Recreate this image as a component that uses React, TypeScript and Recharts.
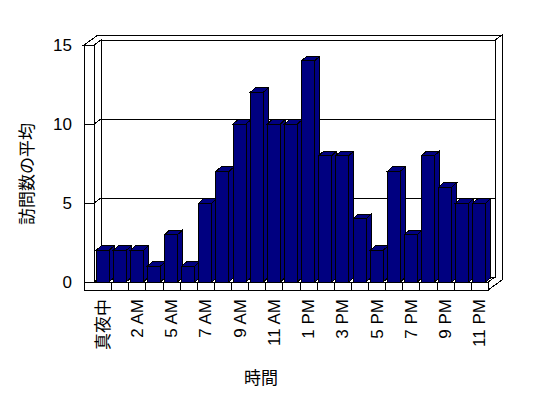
import React from 'react';
import { BarChart, Bar, XAxis, YAxis, CartesianGrid } from 'recharts';

// ---- data ----
const hourLabels = ['真夜中', '1 AM', '2 AM', '3 AM', '5 AM', '6 AM', '7 AM', '8 AM', '9 AM', '10 AM', '11 AM', '12 PM', '1 PM', '2 PM', '3 PM', '4 PM', '5 PM', '6 PM', '7 PM', '8 PM', '9 PM', '10 PM', '11 PM'];
const avgVisits = [2, 2, 2, 1, 3, 1, 5, 7, 10, 12, 10, 10, 14, 8, 8, 4, 2, 7, 3, 8, 6, 5, 5];
const yTicks = [0, 5, 10, 15];
const yTitle = '訪問数の平均';
const xTitle = '時間';

const data = hourLabels.map((label, i) => ({ label, value: avgVisits[i] }));

// ---- layout ----
const W = 548;
const H = 398;
const Y_AXIS_W = 60;
const PLOT_L = 94;
const PLOT_R = 488;
const PLOT_T = 45;
const PLOT_B = 282;
const FLOOR_B = 290;
const WALL_OUT = 84;
const DX = 7; // wall depth
const DY = 5;
const BDX = 5; // bar depth
const BDY = 4.5;
const NAVY = '#000080';
const FONT = '"Liberation Sans", "Noto Sans CJK JP", sans-serif';

const Bar3D = (props: any) => {
  const { x, y, width, height } = props;
  if (width == null || height == null) return null;
  const p = (pts: number[][]) => pts.map((q) => q.join(',')).join(' ');
  return (
    <g shapeRendering="crispEdges">
      <polygon
        points={p([[x, y], [x + BDX, y - BDY], [x + width + BDX, y - BDY], [x + width, y]])}
        fill={NAVY}
        stroke="#000"
        strokeWidth={1}
      />
      <polygon
        points={p([[x + width, y], [x + width + BDX, y - BDY], [x + width + BDX, y + height - BDY], [x + width, y + height]])}
        fill={NAVY}
        stroke="#000"
        strokeWidth={1}
      />
      <rect x={x} y={y} width={width} height={height} fill={NAVY} stroke="#000" strokeWidth={1} />
    </g>
  );
};

const XTick = (props: any) => {
  const { x, payload } = props;
  const ty = FLOOR_B + 9;
  return (
    <text
      x={x}
      y={ty}
      dy="0.35em"
      transform={`rotate(-90, ${x}, ${ty})`}
      textAnchor="end"
      fontSize={17}
      fontFamily={FONT}
      fill="#000"
    >
      {payload.value}
    </text>
  );
};

const gridLine = (p: any) => (
  <g key={p.key} shapeRendering="crispEdges">
    <line x1={p.x1} y1={p.y1} x2={p.x1 + DX} y2={p.y1 - DY} stroke="#000" strokeWidth={1} />
    <line x1={p.x1 + DX} y1={p.y1 - DY} x2={p.x2 + DX} y2={p.y2 - DY} stroke="#000" strokeWidth={1} />
  </g>
);

const Frame = () => {
  const n = hourLabels.length;
  const band = (PLOT_R - PLOT_L) / n;
  const pts = (a: number[][]) => a.map((q) => q.join(',')).join(' ');
  const floorTicks = [];
  for (let i = 1; i < n; i++) {
    const xx = Math.round(PLOT_L + band * i) + 0.5;
    floorTicks.push(<line key={i} x1={xx} y1={PLOT_B} x2={xx} y2={FLOOR_B} stroke="#000" />);
  }
  return (
    <svg width={W} height={H} style={{ position: 'absolute', left: 0, top: 0 }} shapeRendering="crispEdges">
      <rect x={0} y={0} width={W} height={H} fill="#fff" />
      {/* back wall slab top + left wall top */}
      <polygon
        points={pts([[WALL_OUT, PLOT_T], [PLOT_L, PLOT_T], [PLOT_L + DX, PLOT_T - DY], [PLOT_R + DX, PLOT_T - DY], [PLOT_R + 2 * DX, PLOT_T - 2 * DY], [WALL_OUT + 2 * DX, PLOT_T - 2 * DY]])}
        fill="#fff"
        stroke="#000"
      />
      {/* back wall right side */}
      <polygon
        points={pts([[PLOT_R + DX, PLOT_T - DY], [PLOT_R + 2 * DX, PLOT_T - 2 * DY], [PLOT_R + 2 * DX, FLOOR_B - 2 * DY], [PLOT_R, FLOOR_B], [PLOT_R, PLOT_B], [PLOT_R + DX, PLOT_B - DY]])}
        fill="#fff"
        stroke="#000"
      />
      {/* back wall inner face */}
      <rect x={PLOT_L + DX} y={PLOT_T - DY} width={PLOT_R - PLOT_L} height={PLOT_B - PLOT_T} fill="#fff" stroke="#000" />
      {/* left wall inner face */}
      <polygon
        points={pts([[PLOT_L, PLOT_T], [PLOT_L + DX, PLOT_T - DY], [PLOT_L + DX, PLOT_B - DY], [PLOT_L, PLOT_B]])}
        fill="#fff"
        stroke="#000"
      />
      {/* floor top */}
      <polygon
        points={pts([[PLOT_L, PLOT_B], [PLOT_R, PLOT_B], [PLOT_R + DX, PLOT_B - DY], [PLOT_L + DX, PLOT_B - DY]])}
        fill="#fff"
        stroke="#000"
      />
      {/* left wall front face */}
      <rect x={WALL_OUT} y={PLOT_T} width={PLOT_L - WALL_OUT} height={FLOOR_B - PLOT_T} fill="#fff" stroke="#000" />
      {/* floor front face */}
      <rect x={WALL_OUT} y={PLOT_B} width={PLOT_R - WALL_OUT} height={FLOOR_B - PLOT_B} fill="#fff" stroke="#000" />
      {floorTicks}
      <text
        x={27}
        y={174}
        transform="rotate(-90, 27, 174)"
        textAnchor="middle"
        dy="0.35em"
        fontSize={17}
        fontFamily={FONT}
        fill="#000"
      >
        {yTitle}
      </text>
      <text x={261} y={378} textAnchor="middle" dy="0.35em" fontSize={17} fontFamily={FONT} fill="#000">
        {xTitle}
      </text>
    </svg>
  );
};

export default function App() {
  return (
    <div style={{ position: 'fixed', left: 0, top: 0, width: W, height: H, background: '#fff' }}>
      <Frame />
      <div style={{ position: 'absolute', left: 0, top: 0 }}>
        <BarChart
          width={W}
          height={H}
          data={data}
          margin={{ top: PLOT_T, right: W - PLOT_R, bottom: 16, left: PLOT_L - Y_AXIS_W }}
          barCategoryGap="12%"
        >
          <CartesianGrid vertical={false} horizontal={gridLine} />
          <XAxis
            dataKey="label"
            interval={1}
            tickLine={false}
            axisLine={false}
            height={H - 16 - PLOT_B}
            tick={<XTick />}
          />
          <YAxis
            width={Y_AXIS_W}
            domain={[0, 15]}
            ticks={yTicks}
            allowDataOverflow
            tickSize={10}
            tickMargin={12}
            axisLine={{ stroke: '#000', shapeRendering: 'crispEdges' }}
            tickLine={{ stroke: '#000', shapeRendering: 'crispEdges' }}
            tick={{ fill: '#000', fontSize: 17, fontFamily: FONT }}
          />
          <Bar dataKey="value" shape={<Bar3D />} isAnimationActive={false} />
        </BarChart>
      </div>
    </div>
  );
}
